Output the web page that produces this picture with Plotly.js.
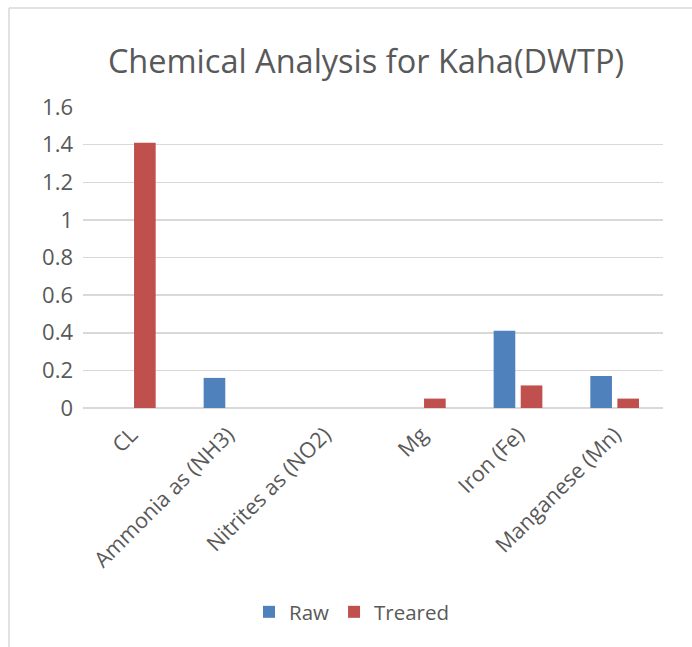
<!DOCTYPE html>
<html>
<head>
<meta charset="utf-8">
<script src="https://cdn.plot.ly/plotly-3.0.1.min.js"></script>
<style>html,body{margin:0;padding:0;background:#fff;overflow:hidden;}#chart{width:692px;height:647px;}</style>
</head>
<body>
<div id="chart"></div>
<script>
const categories = ["CL", "Ammonia as (NH3)", "Nitrites as (NO2)", "Mg", "Iron (Fe)", "Manganese (Mn)"];
const rawValues = [0, 0.16, 0, 0, 0.41, 0.17];
const trearedValues = [1.41, 0, 0, 0.05, 0.12, 0.05];
const seriesNames = ["Raw", "Treared"];
const yTicks = [0, 0.2, 0.4, 0.6, 0.8, 1, 1.2, 1.4, 1.6];

const font = "'Open Sans', 'Liberation Sans', sans-serif";
const traces = [
  {type: "bar", name: seriesNames[0], x: categories, y: rawValues,
   marker: {color: "#4f81bd", line: {width: 0}}},
  {type: "bar", name: seriesNames[1], x: categories, y: trearedValues,
   marker: {color: "#c0504d", line: {width: 0}}}
];
const layout = {
  width: 692, height: 647,
  margin: {l: 83, r: 29, t: 107, b: 239},
  paper_bgcolor: "#fff", plot_bgcolor: "#fff",
  font: {family: font, color: "#595959", size: 20},
  title: {text: "Chemical Analysis for Kaha(DWTP)", font: {family: font, size: 32.5, color: "#595959"},
          x: 366/692, xanchor: "center", y: 1 - 62/647, yanchor: "middle", xref: "container", yref: "container"},
  barmode: "group", bargap: 0.44, bargroupgap: 0.2,
  showlegend: true,
  legend: {orientation: "h", x: (352 - 83)/580, xanchor: "center", y: (408 - 612)/301, yanchor: "middle",
           font: {family: font, size: 20.5, color: "#595959"}, itemwidth: 30, traceorder: "normal"},
  xaxis: {type: "category", tickangle: -45, showgrid: false, zeroline: false, showline: false, ticks: "",
          ticklabelstandoff: 9,
          tickfont: {family: font, size: 21.5, color: "#595959"}, automargin: false},
  yaxis: {range: [0, 1.6], tickvals: yTicks, ticktext: yTicks.map(v => String(v)), showgrid: true,
          gridcolor: "#d9d9d9", gridwidth: 1.5, zeroline: true, zerolinecolor: "#d9d9d9", zerolinewidth: 1.5,
          showline: false, ticks: "", ticklabelstandoff: 9, tickfont: {family: font, size: 22, color: "#595959"}, automargin: false},
  shapes: [
    {type: "line", xref: "paper", yref: "paper", x0: (9 - 83)/580, x1: (9 - 83)/580,
     y0: (408 - 660)/301, y1: (408 - 8)/301, line: {color: "#d9d9d9", width: 1.5}, layer: "below"},
    {type: "line", xref: "paper", yref: "paper", x0: (9 - 83)/580, x1: (700 - 83)/580,
     y0: (408 - 8)/301, y1: (408 - 8)/301, line: {color: "#d9d9d9", width: 1.5}, layer: "below"}
  ]
};
Plotly.newPlot("chart", traces, layout, {displayModeBar: false, staticPlot: true});
</script>
</body>
</html>
